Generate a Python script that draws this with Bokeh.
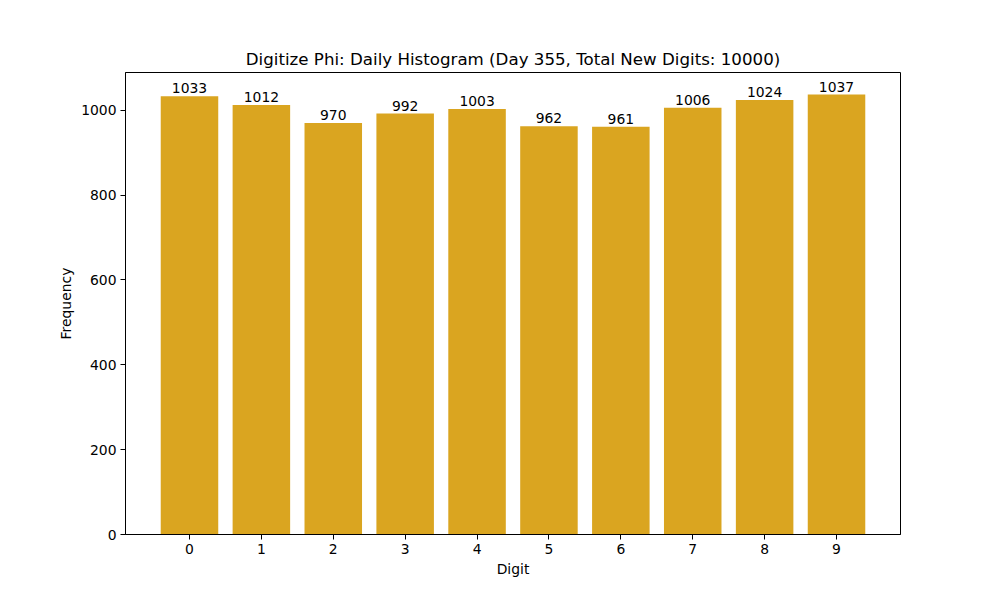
from bokeh.plotting import figure
from bokeh.models import ColumnDataSource, FixedTicker, Range1d
from bokeh.core.properties import value
from bokeh.embed import file_html
from bokeh.resources import INLINE

digits = [0, 1, 2, 3, 4, 5, 6, 7, 8, 9]
counts = [1033, 1012, 970, 992, 1003, 962, 961, 1006, 1024, 1037]
labels = [str(c) for c in counts]

src = ColumnDataSource(dict(x=digits, top=counts, label=labels))

p = figure(width=1000, height=600, output_backend="svg", toolbar_location=None,
           x_range=Range1d(-0.89, 9.89), y_range=Range1d(0, 1088.85),
           min_border_left=125, min_border_right=100, min_border_top=72, min_border_bottom=66,
           title="Digitize Phi: Daily Histogram (Day 355, Total New Digits: 10000)")
p.title.align = "center"
p.title.text_font = "DejaVu Sans"
p.title.text_font_size = "16.67px"
p.title.text_font_style = "normal"
p.title.text_color = "black"
p.title.offset = 0
p.title.standoff = 8

p.vbar(x="x", top="top", width=0.8, source=src, fill_color="#DAA520", line_color=None)
p.text(x="x", y="top", text="label", source=src, text_align="center", text_baseline="bottom",
       text_font=value("DejaVu Sans"), text_font_size="13.9px", text_color="black", y_offset=-3)

p.xgrid.visible = False
p.ygrid.visible = False
p.outline_line_color = "black"
p.outline_line_width = 1

p.xaxis.ticker = FixedTicker(ticks=digits)
p.yaxis.ticker = FixedTicker(ticks=[0, 200, 400, 600, 800, 1000])
p.xaxis.axis_label = "Digit"
p.yaxis.axis_label = "Frequency"
for ax in (p.xaxis[0], p.yaxis[0]):
    ax.axis_label_text_font = "DejaVu Sans"
    ax.axis_label_text_font_size = "13.9px"
    ax.axis_label_text_font_style = "normal"
    ax.axis_label_text_color = "black"
    ax.major_label_text_font = "DejaVu Sans"
    ax.major_label_text_font_size = "13.9px"
    ax.major_label_text_color = "black"
    ax.major_tick_out = 5
    ax.major_tick_in = 0
    ax.minor_tick_out = 0
    ax.minor_tick_in = 0
    ax.axis_line_color = "black"
    ax.major_tick_line_color = "black"
    ax.major_label_standoff = 4
    ax.axis_label_standoff = 4

p.background_fill_color = "white"
p.border_fill_color = "white"

open("out.html", "w").write(file_html(p, INLINE))
